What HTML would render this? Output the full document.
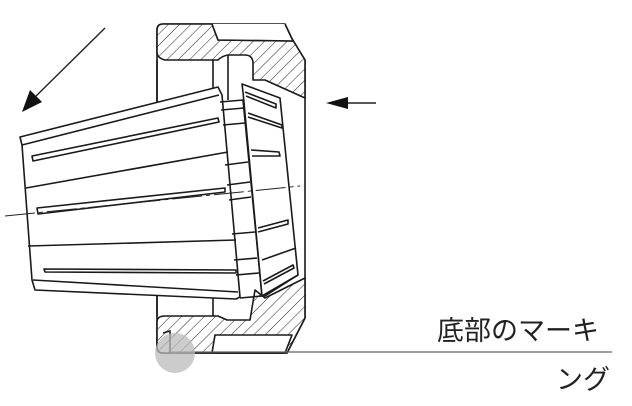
<!DOCTYPE html>
<html><head><meta charset="utf-8"><style>
html,body{margin:0;padding:0;background:#fff;width:632px;height:406px;overflow:hidden}
svg{display:block}
text{font-family:"Liberation Sans","Noto Sans CJK JP",sans-serif;fill:#222}
</style></head><body>
<svg width="632" height="406" viewBox="0 0 632 406" xmlns="http://www.w3.org/2000/svg">
<defs>
<pattern id="h" patternUnits="userSpaceOnUse" width="8" height="8" patternTransform="rotate(45)">
<rect width="8" height="8" fill="#fff"/><line x1="0" y1="0" x2="0" y2="8" stroke="#222" stroke-width="1"/>
</pattern>
</defs>
<g stroke="#1a1a1a" stroke-width="1.6" fill="none" stroke-linejoin="round">
<!-- nut outline -->
<path d="M157,30 Q157,24 163,24 L283,24 L305,60 L305,318 L287,353 L163,353 Q157,353 157,347 Z" fill="#fff"/>
<!-- top hatch -->
<path d="M157,30 Q157,24 163,24 L212,24 L218,40 L293,41 L285,24 L283,24 L305,60 L305,98 L265,80 L253,80 L253,62 Q252,55 245,55 L228,55 Q222,56 218,60 L165,60 Q157,58 157,52 Z" fill="url(#h)"/>
<path d="M212,24 L218,40 L293,41 L285,24" fill="#fff"/>
<!-- bottom hatch -->
<path d="M157,322 Q157,316 165,316 L218,316 L227,320 L250,320 L255,290 L265,298 L305,278 L305,318 L287,353 L163,353 Q157,353 157,347 Z" fill="url(#h)"/>
<path d="M215,335 L292,335 L285,353 L212,353 Z" fill="#fff"/>
<path d="M163,333 L170,331 L170,353"/>
<!-- bore lines -->
<line x1="213" y1="60" x2="213" y2="316"/>
<line x1="228" y1="55" x2="228" y2="100"/>
<line x1="157" y1="60" x2="157" y2="316"/>
<!-- collet body -->
<path d="M20,137 L218,87 L222,95 L240,297 L236,299 L35,290 L32,280 L22,145 Z" fill="#fff"/>
<path d="M22,145 L219,95"/>
<path d="M33,280 L238,292"/>
<path d="M26,188 L228,152"/>
<path d="M28,246 L236,240"/>
<path d="M32,156 L218,118 L219,122 L33,161 Z"/>
<path d="M37,208 L225,188 L225,192 L38,214 Z" />
<path d="M44,269 L236,270 L236,273 L45,272 Z"/>
<!-- neck -->
<path d="M220,102 L243,100 L262,296 L240,298"/>
<path d="M221,110 L244,108 M223,125 L245,123 M225,165 L248,162 M227,185 L250,182 M229,200 L251,197 M232,234 L255,232 M234,260 L257,258 M236,275 L259,273"/>
<!-- rear cone -->
<path d="M242,84 L280,98 L298,275 L265,296 L262,296 L243,92 Z" fill="#fff"/>
<path d="M245,92 L276,104 L276,108 L246,96"/>
<path d="M248,113 L282,125 L282,128 L248,117"/>
<path d="M251,150 L279,152 L280,156 L252,156"/>
<path d="M258,228 L288,220 L288,224 L258,232"/>
<path d="M262,260 L296,248"/>
<path d="M263,281 L293,265 L294,268 L264,284"/>
<path d="M262,296 L298,275"/>
</g>
<!-- centerline -->
<line x1="5" y1="216" x2="300" y2="186" stroke="#222" stroke-width="1" stroke-dasharray="30,4,4,4"/>
<!-- arrows -->
<line x1="105" y1="28" x2="32" y2="100" stroke="#222" stroke-width="1.4"/>
<polygon points="22,112 30,90 42,102" fill="#111"/>
<line x1="376" y1="103" x2="340" y2="103" stroke="#222" stroke-width="1.4"/>
<polygon points="326,103 348,97 348,109" fill="#111"/>
<!-- leader -->
<line x1="170" y1="352" x2="612" y2="352" stroke="#666" stroke-width="1.2"/>
<circle cx="175" cy="353" r="20" fill="#bbb" fill-opacity="0.75"/>
<text x="437" y="340" font-size="27">底部のマーキ</text>
<text x="556" y="389" font-size="27">ング</text>
</svg>
</body></html>
